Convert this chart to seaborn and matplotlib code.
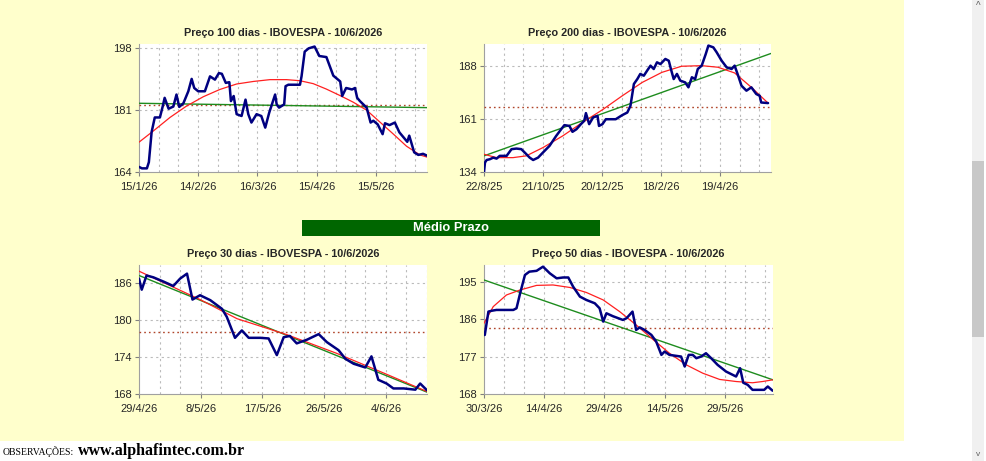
import numpy as np
import pandas as pd
import matplotlib
matplotlib.use("Agg")
import matplotlib.pyplot as plt
import matplotlib.dates as mdates
from matplotlib.patches import Rectangle
from matplotlib.ticker import FuncFormatter
import seaborn as sns

# ---------------- data ----------------
# Panel: Preço 100 dias (start 15/1/26)
p100_start = "2026-01-15"
p100_days = [0, 1.5, 4, 5, 6.4, 8, 10.6, 12, 13, 15, 17.4, 19, 20.4, 22.5, 25, 26.7, 28, 30, 33.4, 36,
             38.5, 40.5, 42, 44, 45.8, 46.6, 48, 49.5, 52, 54, 55.4, 57, 59.6, 62, 64, 66, 69, 69.8, 71,
             73.6, 74.3, 75.7, 81.6, 82.4, 84, 86, 89, 91.4, 95, 98.5, 102, 103, 105, 108, 109.5, 110.6,
             112, 115.4, 117.4, 118.8, 121, 123.5, 124.7, 127, 129.7, 132, 136, 137, 139.5, 141.6, 144, 146]
p100_price = [165.4, 165, 165, 166.7, 175, 179, 179, 182, 184.4, 181.4, 182, 185.3, 181.9, 182.9, 186.2,
              189.6, 187.1, 186.2, 186.2, 190.3, 189.4, 191.2, 191, 188.5, 188.7, 183.5, 184.9, 179.9,
              179.4, 183.9, 179.9, 177.6, 179.9, 179.4, 176.2, 180.3, 185.3, 182.6, 181.7, 182.6, 187.6,
              188, 188, 190.3, 197.1, 198, 198.5, 195.9, 195.6, 190.5, 188.9, 184.9, 187.1, 186.7, 187.1,
              184.4, 183.5, 181.7, 177.6, 178.1, 177.1, 174.4, 177.4, 176.9, 177.6, 174.9, 172.3, 174,
              169.4, 168.7, 169, 168.5]
p100_curve_days = [0, 7.3, 15.7, 24, 32.6, 41, 49.5, 58, 66.4, 74.8, 81.6, 88.3, 95, 102, 108.6, 115.4,
                   122, 129, 135.6, 142.4, 146]
p100_curve = [172.2, 175.3, 179, 182.1, 184.7, 186.7, 188.2, 188.9, 189.4, 189.4, 189.1, 188.3, 186.8,
              185, 183.2, 181, 177.8, 174.4, 171.1, 168.7, 168.1]
p100_trend_days = [0, 146]
p100_trend = [182.9, 181.7]
p100_mean = 182.5
p100_yticks = [164, 181, 198]

# Panel: Preço 200 dias (start 22/8/25)
p200_start = "2025-08-22"
p200_days = [0, 1, 2.7, 6, 9.4, 12.8, 16, 23, 28, 33, 38, 41.4, 46.5, 50, 55, 60, 66.7, 73.4, 78.5, 81.8,
             86.9, 90, 94, 98.6, 102, 103.7, 107, 111, 115.5, 117, 120.5, 124, 134, 140.7, 145.8, 149,
             152.5, 156, 159, 162.6, 166, 169.4, 172.7, 176, 179.5, 184.5, 188, 190.6, 193, 196.3, 199.7,
             204.7, 208, 211.5, 214.8, 217.5, 221.5, 225.6, 228.3, 233.3, 236.7, 241.8, 246.8, 251.9, 255,
             258.6, 262, 267, 272, 277, 280.5, 282, 289]
p200_price = [134, 138.8, 140.1, 140.5, 141.3, 140.8, 142.2, 142.2, 145.6, 145.9, 145.6, 143.9, 141.3,
              140.1, 141.3, 143.9, 147.3, 152.3, 155.7, 157.8, 157.4, 154.4, 155.7, 158.3, 160, 163.9,
              158.3, 161.7, 162.5, 157.4, 158.3, 160.8, 160.8, 162.9, 164.2, 167.6, 178.7, 181.2, 183.8,
              182.9, 185.5, 188, 186.3, 189.7, 188.8, 191.4, 190.5, 185.5, 181.2, 183.8, 180.4, 179.5, 177,
              182.1, 181.2, 186.3, 188, 193.9, 198.2, 197.3, 194.8, 190.5, 187.2, 186.3, 188, 182.9, 177.8,
              175.3, 177, 173.6, 172.7, 169.3, 169]
p200_curve_days = [0, 12.8, 29.6, 43, 60, 80, 100, 120.5, 140.7, 161, 181, 201, 221.5, 238, 255, 272, 289]
p200_curve = [143, 141.3, 141.3, 142.2, 146.4, 152.3, 159.1, 165.6, 172.7, 179.5, 184.6, 187.7, 188,
              187.2, 184.3, 177, 169]
p200_trend_days = [0, 292]
p200_trend = [142.2, 194.2]
p200_mean = 166.8
p200_yticks = [134, 161, 188]

# Panel: Preço 30 dias (start 29/4/26)
p30_start = "2026-04-29"
p30_days = [0, 0.4, 1.1, 2.1, 3.6, 5, 6, 7, 7.8, 8.9, 10.4, 12.1, 12.8, 14, 15, 16, 17.7, 18.9, 20.1,
            21.1, 22, 23, 24.5, 26.2, 27.4, 29.1, 30.1, 31.3, 33, 33.9, 34.9, 36.1, 37.1, 38.6, 40.3, 41, 42]
p30_price = [186.7, 184.9, 187.2, 186.9, 186.2, 185.5, 186.7, 187.5, 183.3, 184, 183.2, 181.8, 180.5,
             177.1, 178.3, 177.1, 177.1, 177, 174.3, 177.2, 177.4, 176.2, 176.8, 177.7, 176.4, 175.1,
             173.7, 172.9, 172.3, 174.1, 170.3, 169.7, 168.9, 168.9, 168.7, 169.7, 168.6]
p30_curve_days = [0, 8.9, 14.3, 21.6, 28.8, 36.1, 42]
p30_curve = [187.9, 183.3, 180.2, 177.6, 174.6, 171.2, 168.4]
p30_trend_days = [0, 42]
p30_trend = [187.2, 168.3]
p30_mean = 178.1
p30_yticks = [168, 174, 180, 186]

# Panel: Preço 50 dias (start 30/3/26)
p50_start = "2026-03-30"
p50_days = [0, 0.2, 1.1, 1.9, 3.1, 7.3, 8.1, 9, 10.2, 11.3, 13.1, 14.7, 16.4, 18.1, 19.7, 21, 22.2, 23.9,
            25.5, 27.6, 28.8, 29.7, 30.5, 32.1, 34.6, 35.5, 37, 37.9, 38.8, 40, 41.7, 42.9, 44.2, 45, 46.2,
            49.1, 50, 51, 52, 52.9, 54.1, 55.3, 56.6, 58.2, 60.3, 62.8, 63.8, 64.6, 65.7, 66.9, 69.8, 70.7,
            71.9]
p50_price = [182.2, 182.2, 187.8, 188, 188.2, 188.2, 188.6, 192.2, 196.6, 197.4, 197.6, 198.6, 197, 195.8,
             196, 196, 193.8, 191.4, 190.6, 189.8, 188.6, 185.4, 187.4, 186.7, 185.8, 186.2, 187.8, 183.4,
             184, 183.4, 182.2, 180.6, 177.4, 178.2, 177.4, 177, 174.6, 177.4, 177.4, 176.6, 177, 177.8,
             176.6, 175, 173.4, 172.2, 174.2, 170.7, 170.2, 169, 169, 169.8, 168.8]
p50_curve_days = [0, 2.3, 5.6, 9, 13.1, 17.2, 21.4, 25.5, 29.7, 33.8, 37.9, 42.1, 46.2, 50.4, 54.5, 58.7,
                  62.8, 66.9, 69.4, 71.9]
p50_curve = [185, 189, 191.8, 193, 194.1, 194.2, 193.6, 192.4, 190.6, 187.8, 184.6, 181.1, 177.8, 175,
             173, 171.5, 171, 170.7, 171, 171.4]
p50_trend_days = [0, 72]
p50_trend = [195.4, 171.4]
p50_mean = 183.8
p50_yticks = [168, 177, 186, 195]

titles = ["Preço 100 dias - IBOVESPA - 10/6/2026", "Preço 200 dias - IBOVESPA - 10/6/2026",
          "Preço 30 dias - IBOVESPA - 10/6/2026", "Preço 50 dias - IBOVESPA - 10/6/2026"]
end_date = "2026-06-10"
section_label = "Médio Prazo"
obs_label = "OBSERVAÇÕES:"
site_label = "www.alphafintec.com.br"

# ---------------- figure ----------------
sns.set_theme(style="white")
plt.rcParams['font.family'] = ['Liberation Sans', 'DejaVu Sans']

W, H = 987, 461
fig = plt.figure(figsize=(W / 100, H / 100), dpi=100, facecolor="white")


def fx(px):
    return px / W


def fy(py):
    return 1 - py / H


# yellow page background
fig.add_artist(Rectangle((0, fy(441)), fx(904), 441 / H, transform=fig.transFigure,
                         facecolor="#FFFFCC", edgecolor="none", zorder=0))
# scrollbar
fig.add_artist(Rectangle((fx(972), 0), fx(12), 1, transform=fig.transFigure,
                         facecolor="#F0F0F0", edgecolor="none", zorder=0))
fig.add_artist(Rectangle((fx(972), fy(337)), fx(12), (337 - 161) / H, transform=fig.transFigure,
                         facecolor="#C8C8C8", edgecolor="none", zorder=1))
fig.text(fx(978), fy(6), "^", ha="center", va="center", fontsize=7, color="#606060")
fig.text(fx(978), fy(454), "v", ha="center", va="center", fontsize=6, color="#606060")


def make_panel(rect, title, start, days, price, cdays, curve, tdays, trend, mean, yticks, ylim,
               major_step, minor_step):
    l, t, r, b = rect
    ax = fig.add_axes([fx(l), fy(b), fx(r - l), (b - t) / H])
    ax.set_facecolor("white")
    s = pd.Timestamp(start)
    e = pd.Timestamp(end_date)
    dprice = pd.DataFrame({"x": s + pd.to_timedelta(days, unit="D"), "y": price})
    dcurve = pd.DataFrame({"x": s + pd.to_timedelta(cdays, unit="D"), "y": curve})
    dtrend = pd.DataFrame({"x": s + pd.to_timedelta(tdays, unit="D"), "y": trend})
    dmean = pd.DataFrame({"x": [s, e], "y": [mean, mean]})
    sns.lineplot(data=dmean, x="x", y="y", ax=ax, color="#B0452A", lw=1.0,
                 linestyle=(0, (1.2, 2.2)), estimator=None, zorder=3)
    sns.lineplot(data=dtrend, x="x", y="y", ax=ax, color="#1E8C1E", lw=1.0, estimator=None, zorder=4)
    sns.lineplot(data=dcurve, x="x", y="y", ax=ax, color="#FF2020", lw=0.9, estimator=None, zorder=5)
    sns.lineplot(data=dprice, x="x", y="y", ax=ax, color="#000080", lw=1.8, estimator=None,
                 sort=False, zorder=6)
    ax.set_xlim(mdates.date2num(s), mdates.date2num(e))
    ax.set_ylim(*ylim)
    nmaj = int((e - s).days // major_step) + 1
    majors = [s + pd.Timedelta(days=major_step * k) for k in range(nmaj)]
    nmin = int((e - s).days // minor_step) + 1
    minors = [s + pd.Timedelta(days=minor_step * k) for k in range(1, nmin)]
    ax.set_xticks([mdates.date2num(d) for d in majors])
    ax.set_xticks([mdates.date2num(d) for d in minors], minor=True)
    ax.xaxis.set_major_formatter(FuncFormatter(
        lambda v, p: (lambda d: f"{d.day}/{d.month}/{d.strftime('%y')}")(mdates.num2date(v))))
    ax.set_yticks(yticks)
    ax.set_xlabel("")
    ax.set_ylabel("")
    ax.grid(False)
    for d in minors:
        ax.axvline(mdates.date2num(d), color="#BBBBBB", lw=0.8, linestyle=(0, (2, 3)), zorder=1)
    for yv in yticks[1:]:
        ax.axhline(yv, color="#BBBBBB", lw=0.8, linestyle=(0, (2, 3)), zorder=1)
    ax.tick_params(axis="both", which="major", labelsize=8, length=3, width=0.8, color="#808080",
                   direction="out", left=True, bottom=True)
    ax.tick_params(axis="x", which="major", pad=4)
    ax.tick_params(axis="y", which="major", pad=2)
    ax.tick_params(axis="x", which="minor", length=0)
    for side in ["top", "right"]:
        ax.spines[side].set_visible(False)
    for side in ["left", "bottom"]:
        ax.spines[side].set_color("#A0A0A0")
        ax.spines[side].set_linewidth(0.8)
    ax.set_title(title, fontsize=7.8, fontweight="bold", pad=6)
    return ax


make_panel((139, 44, 427, 172), titles[0], p100_start, p100_days, p100_price, p100_curve_days,
           p100_curve, p100_trend_days, p100_trend, p100_mean, p100_yticks, (164, 199.2), 30, 10)
make_panel((484, 44, 771, 172), titles[1], p200_start, p200_days, p200_price, p200_curve_days,
           p200_curve, p200_trend_days, p200_trend, p200_mean, p200_yticks, (134, 199), 60, 20)
make_panel((139, 265, 427, 394), titles[2], p30_start, p30_days, p30_price, p30_curve_days,
           p30_curve, p30_trend_days, p30_trend, p30_mean, p30_yticks, (168, 188.9), 9, 3)
make_panel((484, 265, 773, 394), titles[3], p50_start, p50_days, p50_price, p50_curve_days,
           p50_curve, p50_trend_days, p50_trend, p50_mean, p50_yticks, (168, 199), 15, 5)

# "Médio Prazo" banner
fig.add_artist(Rectangle((fx(302), fy(236)), fx(298), 16 / H, transform=fig.transFigure,
                         facecolor="#006600", edgecolor="none", zorder=2))
fig.text(fx(451), fy(228), section_label, ha="center", va="center", color="white",
         fontsize=9.3, fontweight="bold", zorder=3)

# bottom observations text
fig.text(fx(3), fy(455), obs_label, ha="left", va="baseline", fontsize=7,
         family=["Liberation Serif", "DejaVu Serif"], color="black")
fig.text(fx(78), fy(455), site_label, ha="left", va="baseline", fontsize=11.5, fontweight="bold",
         family=["Liberation Serif", "DejaVu Serif"], color="black")

fig.savefig("out.png", dpi=100, facecolor="white")
